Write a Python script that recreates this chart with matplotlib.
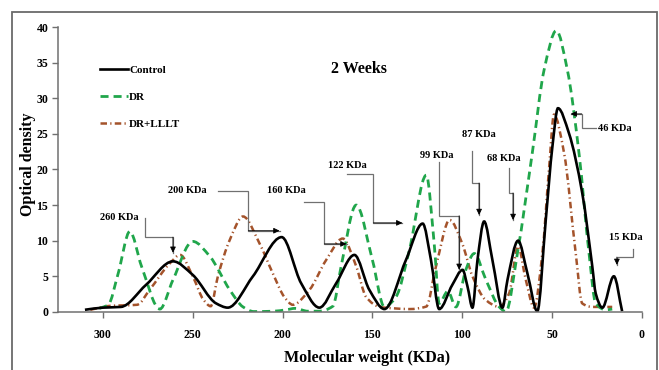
import numpy as np
import matplotlib
matplotlib.use('Agg')
import matplotlib.pyplot as plt
from matplotlib.path import Path
from matplotlib.patches import PathPatch, Rectangle
from matplotlib.lines import Line2D

plt.rcParams['font.family'] = ['Liberation Serif', 'DejaVu Serif']
plt.rcParams['font.weight'] = 'bold'

# values (x = molecular weight, y = optical density)
control_x = [310, 300, 290, 276, 261, 250, 237, 230.5, 216.5, 200.5, 189.6, 179.5, 170.2, 160, 151.7, 143.3,
             131.3, 122, 117.4, 112.8, 105.5, 99.8, 97, 94.3, 91.5, 87.8, 83.2, 77.6, 74.8, 68.9, 63.7, 58.2,
             53.5, 49.8, 46.7, 40.6, 33.2, 27.6, 25.7, 22, 15.6, 11]
control_y = [0.3, 0.6, 0.7, 3.8, 7.1, 5.2, 1.2, 0.6, 5.0, 10.5, 4.0, 0.6, 4.0, 8.0, 3.1, 0.4,
             7.3, 12.4, 7.3, 0.4, 3.8, 5.9, 3.5, 0.6, 7.3, 12.7, 7.3, 0.6, 4.5, 10.0, 5.4, 0.1,
             12.9, 23.2, 28.6, 25.1, 16.7, 6.4, 2.6, 0.6, 5.0, 0.1]

dr_x = [302, 297, 291.5, 285, 278.5, 268.3, 261, 250, 240.5, 229.4, 222, 216, 205, 198, 193, 186, 180,
        172, 167.4, 159, 150, 143.3, 136.9, 129.4, 120, 115.6, 112.8, 108, 103.5, 98, 93.3, 86.8, 79.4,
        75.7, 69.3, 61, 54.4, 47.6, 41.5, 35, 29.4, 25.7, 20, 16.5]
dr_y = [0.5, 1.0, 5.4, 11.3, 6.4, 0.4, 4.5, 9.9, 7.8, 3.1, 0.7, 0.05, 0.1, 0.3, 0.5, 0.1, 0.1,
        0.8, 6.4, 15.0, 7.3, 0.7, 2.1, 8.7, 19.2, 9.6, 1.2, 2.9, 0.7, 5.9, 8.2, 4.5, 0.7,
        0.05, 8.2, 22.3, 34.0, 39.5, 34.0, 22.3, 8.2, 1.2, 0.3, 0.4]

lllt_x = [307, 296, 281, 274, 262.8, 257, 250, 244, 240, 236, 229.4, 222, 212.8, 205.4, 199, 194.3, 185,
          175.7, 166.5, 159, 153.5, 146, 138, 129.4, 120, 114.6, 107, 100, 94.3, 87, 79.4, 73.9, 68.9,
          64.6, 60, 55.4, 51.7, 48.9, 43.3, 36.8, 33.2, 27.7, 16.5]
lllt_y = [0.3, 0.85, 1.0, 3.1, 6.8, 8.0, 5.0, 1.7, 0.8, 5.0, 10.1, 13.4, 9.6, 5.4, 2.1, 1.0, 3.1,
          7.3, 10.3, 6.4, 2.1, 0.7, 0.5, 0.4, 0.75, 6.4, 12.9, 9.6, 5.0, 1.7, 0.7, 2.6, 9.2,
          4.5, 0.6, 8.2, 20.0, 27.7, 22.3, 8.2, 1.2, 0.7, 0.7]

x_ticks = [300, 250, 200, 150, 100, 50, 0]
y_ticks = [0, 5, 10, 15, 20, 25, 30, 35, 40]

# band labels with their callout lines: (label, text x, text y, polyline corners ending at the arrow tip)
bands = [
    ('260 KDa', 291, 13.3, [(276.7, 13.2), (276.7, 10.5), (261, 10.5), (261, 8.3)]),
    ('200 KDa', 253, 17.1, [(236, 17.0), (219, 17.0), (219, 11.4), (201.7, 11.4)]),
    ('160 KDa', 198, 17.0, [(188.3, 15.4), (176.7, 15.4), (176.7, 9.55), (164.4, 9.55)]),
    ('122 KDa', 164, 20.5, [(164.4, 19.4), (149.4, 19.4), (149.4, 12.5), (133.3, 12.5)]),
    ('99 KDa', 113.9, 21.9, [(112.8, 21.1), (112.8, 13.5), (101.7, 13.5), (101.7, 5.9)]),
    ('87 KDa', 90.5, 24.9, [(94.4, 22.6), (94.4, 18.1), (90.6, 18.1), (90.6, 13.6)]),
    ('68 KDa', 76.7, 21.5, [(73.9, 20.2), (73.9, 16.7), (71.7, 16.7), (71.7, 12.9)]),
    ('46 KDa', 15.0, 25.8, [(25.7, 25.8), (33.5, 25.8), (33.5, 27.8), (39.6, 27.8)]),
    ('15 KDa', 8.9, 10.5, [(5, 8.85), (5, 7.7), (13.9, 7.7), (13.9, 6.6)]),
]


def smooth_path(xs, ys):
    # smoothed line through every point: cubic bezier segments, flat tangent at peaks and dips
    x = np.asarray(xs, float)
    y = np.asarray(ys, float)
    d = np.diff(y) / np.diff(x)
    m = np.zeros_like(x)
    for i in range(1, len(x) - 1):
        if d[i - 1] * d[i] > 0:
            h0, h1 = x[i] - x[i - 1], x[i + 1] - x[i]
            w1, w2 = 2 * h1 + h0, h1 + 2 * h0
            m[i] = (w1 + w2) / (w1 / d[i - 1] + w2 / d[i])
    m[0], m[-1] = d[0], d[-1]
    verts = [(x[0], y[0])]
    codes = [Path.MOVETO]
    for i in range(len(x) - 1):
        h = (x[i + 1] - x[i]) / 3
        verts += [(x[i] + h, y[i] + m[i] * h), (x[i + 1] - h, y[i + 1] - m[i + 1] * h), (x[i + 1], y[i + 1])]
        codes += [Path.CURVE4] * 3
    return Path(verts, codes)


fig = plt.figure(figsize=(6.59, 3.70), dpi=100)
ax = fig.add_axes([0.088, 0.157, 0.886, 0.770])

green = '#20a64b'
brown = '#a4532b'
styles = [
    ('Control', control_x, control_y, dict(color='black', lw=1.9, ls='-')),
    ('DR', dr_x, dr_y, dict(color=green, lw=2.0, ls=(0, (2.9, 1.8)))),
    ('DR+LLLT', lllt_x, lllt_y, dict(color=brown, lw=1.8, ls=(0, (2.6, 1.3, 0.5, 1.3)))),
]
handles = []
for name, xs, ys, st in styles[::-1]:
    ax.add_patch(PathPatch(smooth_path(xs, ys), fill=False, edgecolor=st['color'],
                           lw=st['lw'], linestyle=st['ls'], capstyle='butt'))
for name, xs, ys, st in styles:
    handles.append(Line2D([], [], color=st['color'], lw=st['lw'], ls=st['ls'], label=name))

ax.set_xlim(325, 0)
ax.set_ylim(0, 40)
ax.set_xticks(x_ticks)
ax.set_yticks(y_ticks)
ax.tick_params(direction='out', length=4, width=1, color='#707070', labelsize=8.5, pad=3)
for lab in ax.get_xticklabels() + ax.get_yticklabels():
    lab.set_fontweight('bold')
ax.tick_params(axis='x', pad=8)
for s in ['top', 'right']:
    ax.spines[s].set_visible(False)
for s in ['left', 'bottom']:
    ax.spines[s].set_color('#707070')
    ax.spines[s].set_linewidth(1.1)

for label, tx, ty, pts in bands:
    ax.text(tx, ty, label, ha='center', va='center', fontsize=7.5, fontweight='bold')
    px = [q[0] for q in pts]
    py = [q[1] for q in pts]
    ax.plot(px, py, color='#707070', lw=0.9, solid_joinstyle='miter')
    ax.annotate('', xy=pts[-1], xytext=pts[-2],
                arrowprops=dict(arrowstyle='-|>,head_length=0.35,head_width=0.17',
                                color='black', lw=0.6, shrinkA=0, shrinkB=0))

ax.text(0.515, 0.853, '2 Weeks', transform=ax.transAxes, ha='center', va='center',
        fontsize=11.5, fontweight='bold')

leg = ax.legend(handles=handles, loc='upper left', bbox_to_anchor=(0.062, 0.885), frameon=False,
                fontsize=8, handlelength=2.5, handletextpad=0.15, labelspacing=1.55, borderpad=0)
for t in leg.get_texts():
    t.set_fontweight('bold')

fig.text(0.043, 0.555, 'Optical density', rotation=90, ha='center', va='center',
         fontsize=11.5, fontweight='bold')
fig.text(0.557, 0.033, 'Molecular weight (KDa)', ha='center', va='center',
         fontsize=11.5, fontweight='bold')

fig.patches.append(Rectangle((12 / 659, -0.05), (657 - 12) / 659, 1.05 - 12 / 370,
                             transform=fig.transFigure, fill=False, edgecolor='#6a6a6a', lw=1.3))

fig.savefig('out.png', dpi=100)
